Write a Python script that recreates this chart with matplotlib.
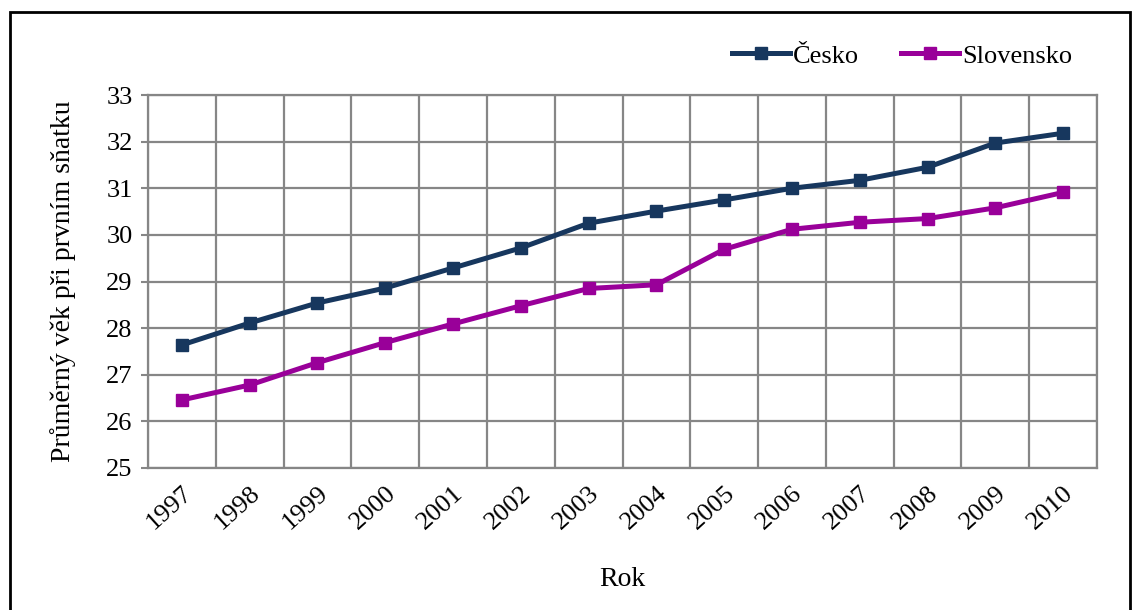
import matplotlib.pyplot as plt
import matplotlib.transforms as mtransforms
import numpy as np
from matplotlib.patches import Rectangle

plt.rcParams['font.family'] = ['Liberation Serif', 'DejaVu Serif']

years = [1997, 1998, 1999, 2000, 2001, 2002, 2003, 2004, 2005, 2006, 2007, 2008, 2009, 2010]
cesko = [27.64, 28.11, 28.54, 28.86, 29.29, 29.72, 30.25, 30.51, 30.75, 31.0, 31.17, 31.45, 31.97, 32.18]
slovensko = [26.46, 26.78, 27.26, 27.69, 28.09, 28.48, 28.85, 28.93, 29.69, 30.12, 30.27, 30.35, 30.58, 30.91]

fig = plt.figure(figsize=(11.32, 6.10), dpi=100)
ax = fig.add_axes([148/1132, 1 - 468/610, (1097-148)/1132, (468-95)/610])

x = np.arange(len(years))
ax.plot(x, cesko, color='#17375E', lw=3.6, marker='s', ms=8.5, label='Česko')
ax.plot(x, slovensko, color='#990099', lw=3.6, marker='s', ms=8.5, label='Slovensko')

ax.set_xlim(-0.5, len(years) - 0.5)
ax.set_ylim(25, 33)
ax.set_yticks(np.arange(25, 34, 1))
ax.set_xticks(x)
ax.set_xticklabels([str(y) for y in years], rotation=42, ha='right', rotation_mode='anchor', fontsize=19)
shift = mtransforms.ScaledTranslation(0.1, 0, fig.dpi_scale_trans)
for lbl in ax.get_xticklabels():
    lbl.set_transform(lbl.get_transform() + shift)
ax.set_xticks(np.arange(-0.5, len(years), 1), minor=True)
ax.tick_params(axis='x', which='major', length=0, pad=10)
ax.tick_params(axis='x', which='minor', length=0)
ax.tick_params(axis='y', length=5, width=1.5, color='#868686', labelsize=19, pad=6)

ax.grid(axis='y', which='major', color='#868686', lw=1.6)
ax.grid(axis='x', which='minor', color='#868686', lw=1.6)
ax.set_axisbelow(True)
for s in ax.spines.values():
    s.set_color('#868686')
    s.set_linewidth(1.6)

ax.set_ylabel('Průměrný věk při prvním sňatku', fontsize=20, labelpad=22)
ax.set_xlabel('Rok', fontsize=20, labelpad=24)

ax.legend(loc='lower right', bbox_to_anchor=(0.985, 1.045), ncol=2, frameon=False,
          fontsize=19, handlelength=2.2, handletextpad=0.1, columnspacing=1.6, borderaxespad=0)

fig.patches.append(Rectangle((10/1132, -0.05), (1130-10)/1132, 1.05 - 12/610,
                             transform=fig.transFigure, fill=False, ec='black', lw=2))

fig.savefig('out.png', dpi=100)
